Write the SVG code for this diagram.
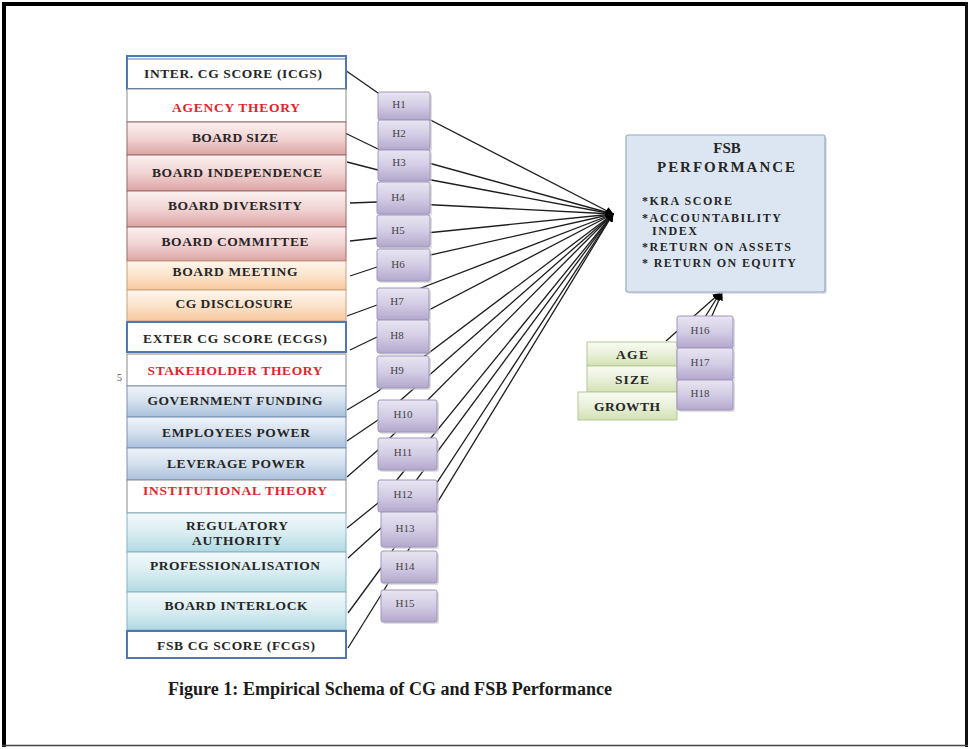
<svg xmlns="http://www.w3.org/2000/svg" width="970" height="749" viewBox="0 0 970 749">
<defs>
<linearGradient id="gPink" x1="0" y1="0" x2="0" y2="1"><stop offset="0" stop-color="#fcf1f1"/><stop offset="0.5" stop-color="#f2d3d3"/><stop offset="1" stop-color="#dca4a4"/></linearGradient>
<linearGradient id="gPeach" x1="0" y1="0" x2="0" y2="1"><stop offset="0" stop-color="#fef6ee"/><stop offset="0.5" stop-color="#fce3cb"/><stop offset="1" stop-color="#f7c99d"/></linearGradient>
<linearGradient id="gBlue" x1="0" y1="0" x2="0" y2="1"><stop offset="0" stop-color="#f0f4f9"/><stop offset="0.5" stop-color="#d3e0ee"/><stop offset="1" stop-color="#a8bfdb"/></linearGradient>
<linearGradient id="gCyan" x1="0" y1="0" x2="0" y2="1"><stop offset="0" stop-color="#f3f9fb"/><stop offset="0.5" stop-color="#d9edf2"/><stop offset="1" stop-color="#b0d9e3"/></linearGradient>
<linearGradient id="gPurple" x1="0" y1="0" x2="0" y2="1"><stop offset="0" stop-color="#e9e5f1"/><stop offset="0.5" stop-color="#d3cce5"/><stop offset="1" stop-color="#b3a8cc"/></linearGradient>
<linearGradient id="gGreen" x1="0" y1="0" x2="0" y2="1"><stop offset="0" stop-color="#f9fbf2"/><stop offset="0.5" stop-color="#e9f0d9"/><stop offset="1" stop-color="#d2e1b3"/></linearGradient>
<marker id="arr" viewBox="0 0 10 10" refX="9" refY="5" markerWidth="8" markerHeight="8" markerUnits="userSpaceOnUse" orient="auto"><path d="M0,0 L10,5 L0,10 z" fill="#000"/></marker>
<style>
.lbl{font-family:"Liberation Serif","Times New Roman",serif;font-weight:bold;font-size:13.5px;fill:#262626;text-anchor:middle}
.red{fill:#e3232c}
.hl{font-family:"Liberation Serif","Times New Roman",serif;font-size:11px;fill:#444;text-anchor:middle}
.score{fill:#ffffff;stroke:#4f77b4;stroke-width:2}
.theory{fill:#ffffff;stroke:#8a8a8a;stroke-width:1}
.pink{fill:url(#gPink);stroke:#9a6a6a;stroke-width:1}
.peach{fill:url(#gPeach);stroke:#c9a27e;stroke-width:1}
.blue{fill:url(#gBlue);stroke:#7b92b4;stroke-width:1}
.cyan{fill:url(#gCyan);stroke:#86b3c0;stroke-width:1}
.green{fill:url(#gGreen);stroke:#b3c797;stroke-width:1}
.hbox{fill:url(#gPurple);stroke:#a195bd;stroke-width:1}
.shadow{fill:#c9c9c9;opacity:0.6}
.conn line{stroke:#1e1e1e;stroke-width:1.3}
.fan line{stroke:#1e1e1e;stroke-width:1.3;marker-end:url(#arr)}
.fsbt{font-family:"Liberation Serif","Times New Roman",serif;font-weight:bold;fill:#262626}
</style>
</defs>
<rect x="0" y="0" width="970" height="749" fill="#ffffff"/>
<g id="frame">
<line x1="2" y1="4" x2="968" y2="4" stroke="#000" stroke-width="4"/>
<line x1="4" y1="2" x2="4" y2="747" stroke="#000" stroke-width="4"/>
<line x1="966.5" y1="2" x2="966.5" y2="747" stroke="#111" stroke-width="3"/>
<line x1="2" y1="745.5" x2="968" y2="745.5" stroke="#444" stroke-width="1.5"/>
</g>

<g id="connectors">
<g class="fan">
<line x1="378" y1="93" x2="613" y2="214"/>
<line x1="378" y1="149" x2="613" y2="214"/>
<line x1="378" y1="170" x2="613" y2="214"/>
<line x1="377" y1="202" x2="613" y2="214"/>
<line x1="377" y1="238" x2="613" y2="214"/>
<line x1="377" y1="267" x2="613" y2="214"/>
<line x1="377" y1="305" x2="613" y2="214"/>
<line x1="377" y1="337" x2="613" y2="214"/>
<line x1="377" y1="392" x2="613" y2="214"/>
<line x1="378" y1="420" x2="613" y2="214"/>
<line x1="378" y1="450" x2="613" y2="214"/>
<line x1="378" y1="503" x2="613" y2="214"/>
<line x1="381" y1="528" x2="613" y2="214"/>
<line x1="381" y1="568" x2="613" y2="214"/>
<line x1="381" y1="595" x2="613" y2="214"/>
<line x1="666" y1="341" x2="720" y2="293"/>
<line x1="677" y1="362" x2="720" y2="293"/>
<line x1="677" y1="395" x2="722" y2="293"/>
</g>
<g class="conn">
<line x1="345" y1="70" x2="378" y2="93"/>
<line x1="345" y1="133" x2="378" y2="149"/>
<line x1="347" y1="162" x2="378" y2="170"/>
<line x1="350" y1="203" x2="377" y2="202"/>
<line x1="350" y1="241" x2="377" y2="238"/>
<line x1="350" y1="276" x2="377" y2="267"/>
<line x1="347" y1="316" x2="377" y2="305"/>
<line x1="350" y1="350" x2="377" y2="337"/>
<line x1="347" y1="410" x2="377" y2="392"/>
<line x1="347" y1="441" x2="378" y2="420"/>
<line x1="347" y1="477" x2="378" y2="450"/>
<line x1="347" y1="528" x2="378" y2="503"/>
<line x1="348" y1="558" x2="381" y2="528"/>
<line x1="348" y1="613" x2="381" y2="568"/>
<line x1="348" y1="648" x2="381" y2="595"/>
</g>
</g>

<g id="icgs"><rect class="score" x="127" y="56" width="219" height="33"/><line x1="127" y1="59" x2="346" y2="59" stroke="#4f77b4" stroke-width="1"/><text class="lbl" x="233" y="77.5" textLength="178" lengthAdjust="spacing">INTER. CG SCORE (ICGS)</text></g>
<g id="agency"><rect class="theory" x="127" y="89" width="219" height="33"/><text class="lbl red" x="236" y="111.5" textLength="128" lengthAdjust="spacing">AGENCY THEORY</text></g>
<g id="boardsize"><rect class="pink" x="127" y="122" width="219" height="33"/><text class="lbl" x="235" y="141.5" textLength="86" lengthAdjust="spacing">BOARD SIZE</text></g>
<g id="boardindependence"><rect class="pink" x="127" y="155" width="219" height="36"/><text class="lbl" x="237" y="176.5" textLength="170" lengthAdjust="spacing">BOARD INDEPENDENCE</text></g>
<g id="boarddiversity"><rect class="pink" x="127" y="191" width="219" height="36"/><text class="lbl" x="235" y="209.5" textLength="134" lengthAdjust="spacing">BOARD DIVERSITY</text></g>
<g id="boardcommittee"><rect class="pink" x="127" y="227" width="219" height="34"/><text class="lbl" x="235" y="245.5" textLength="147" lengthAdjust="spacing">BOARD COMMITTEE</text></g>
<g id="boardmeeting"><rect class="peach" x="127" y="261" width="219" height="29"/><text class="lbl" x="235" y="275.5" textLength="125" lengthAdjust="spacing">BOARD MEETING</text></g>
<g id="cgdisclosure"><rect class="peach" x="127" y="290" width="219" height="31"/><text class="lbl" x="234" y="307.5" textLength="117" lengthAdjust="spacing">CG DISCLOSURE</text></g>
<g id="ecgs"><rect class="score" x="127" y="322" width="219" height="30"/><text class="lbl" x="235" y="342.5" textLength="184" lengthAdjust="spacing">EXTER CG SCORE (ECGS)</text></g>
<g id="stakeholder"><rect class="theory" x="127" y="354" width="219" height="32"/><text class="lbl red" x="235" y="374.5" textLength="175" lengthAdjust="spacing">STAKEHOLDER THEORY</text></g>
<g id="govfunding"><rect class="blue" x="127" y="386" width="219" height="31"/><text class="lbl" x="235" y="404.5" textLength="175" lengthAdjust="spacing">GOVERNMENT FUNDING</text></g>
<g id="employees"><rect class="blue" x="127" y="417" width="219" height="31"/><text class="lbl" x="236" y="436.5" textLength="148" lengthAdjust="spacing">EMPLOYEES POWER</text></g>
<g id="leverage"><rect class="blue" x="127" y="448" width="219" height="32"/><text class="lbl" x="236" y="467.5" textLength="138" lengthAdjust="spacing">LEVERAGE POWER</text></g>
<g id="institutional"><rect class="theory" x="127" y="480" width="219" height="33"/><text class="lbl red" x="235" y="494.5" textLength="184" lengthAdjust="spacing">INSTITUTIONAL THEORY</text></g>
<g id="regulatory"><rect class="cyan" x="127" y="513" width="219" height="39"/><text class="lbl" x="237" y="529.5" textLength="102" lengthAdjust="spacing">REGULATORY</text><text class="lbl" x="237" y="544.5" textLength="90" lengthAdjust="spacing">AUTHORITY</text></g>
<g id="professionalisation"><rect class="cyan" x="127" y="552" width="219" height="40"/><text class="lbl" x="235" y="569.5" textLength="170" lengthAdjust="spacing">PROFESSIONALISATION</text></g>
<g id="boardinterlock"><rect class="cyan" x="127" y="592" width="219" height="38"/><text class="lbl" x="236" y="609.5" textLength="143" lengthAdjust="spacing">BOARD INTERLOCK</text></g>
<g id="fcgs"><rect class="score" x="127" y="631" width="219" height="27"/><text class="lbl" x="236" y="649.5" textLength="158" lengthAdjust="spacing">FSB CG SCORE (FCGS)</text></g>
<text x="117" y="381" font-family="Liberation Serif, serif" font-size="10" fill="#555">5</text>

<g id="h1"><rect class="shadow" x="380" y="94" width="52" height="28" rx="2"/><rect class="hbox" x="378" y="92" width="52" height="28" rx="2"/><text class="hl" x="399" y="108">H1</text></g>
<g id="h2"><rect class="shadow" x="380" y="122" width="52" height="30" rx="2"/><rect class="hbox" x="378" y="120" width="52" height="30" rx="2"/><text class="hl" x="399" y="137">H2</text></g>
<g id="h3"><rect class="shadow" x="380" y="152" width="52" height="31" rx="2"/><rect class="hbox" x="378" y="150" width="52" height="31" rx="2"/><text class="hl" x="399" y="166">H3</text></g>
<g id="h4"><rect class="shadow" x="379" y="184" width="53" height="32" rx="2"/><rect class="hbox" x="377" y="182" width="53" height="32" rx="2"/><text class="hl" x="398" y="201">H4</text></g>
<g id="h5"><rect class="shadow" x="379" y="217" width="53" height="32" rx="2"/><rect class="hbox" x="377" y="215" width="53" height="32" rx="2"/><text class="hl" x="398" y="234">H5</text></g>
<g id="h6"><rect class="shadow" x="379" y="251" width="53" height="32" rx="2"/><rect class="hbox" x="377" y="249" width="53" height="32" rx="2"/><text class="hl" x="398" y="268">H6</text></g>
<g id="h7"><rect class="shadow" x="379" y="290" width="52" height="32" rx="2"/><rect class="hbox" x="377" y="288" width="52" height="32" rx="2"/><text class="hl" x="397" y="305">H7</text></g>
<g id="h8"><rect class="shadow" x="379" y="322" width="52" height="33" rx="2"/><rect class="hbox" x="377" y="320" width="52" height="33" rx="2"/><text class="hl" x="397" y="339">H8</text></g>
<g id="h9"><rect class="shadow" x="379" y="358" width="52" height="32" rx="2"/><rect class="hbox" x="377" y="356" width="52" height="32" rx="2"/><text class="hl" x="397" y="374">H9</text></g>
<g id="h10"><rect class="shadow" x="380" y="402" width="59" height="32" rx="2"/><rect class="hbox" x="378" y="400" width="59" height="32" rx="2"/><text class="hl" x="403" y="418">H10</text></g>
<g id="h11"><rect class="shadow" x="380" y="440" width="59" height="32" rx="2"/><rect class="hbox" x="378" y="438" width="59" height="32" rx="2"/><text class="hl" x="403" y="456">H11</text></g>
<g id="h12"><rect class="shadow" x="380" y="482" width="59" height="32" rx="2"/><rect class="hbox" x="378" y="480" width="59" height="32" rx="2"/><text class="hl" x="403" y="498">H12</text></g>
<g id="h13"><rect class="shadow" x="383" y="514" width="56" height="35" rx="2"/><rect class="hbox" x="381" y="512" width="56" height="35" rx="2"/><text class="hl" x="405" y="532">H13</text></g>
<g id="h14"><rect class="shadow" x="383" y="553" width="56" height="32" rx="2"/><rect class="hbox" x="381" y="551" width="56" height="32" rx="2"/><text class="hl" x="405" y="570">H14</text></g>
<g id="h15"><rect class="shadow" x="383" y="592" width="56" height="32" rx="2"/><rect class="hbox" x="381" y="590" width="56" height="32" rx="2"/><text class="hl" x="405" y="607">H15</text></g>

<g id="fsb">
<rect x="628" y="137" width="199" height="157" fill="#cfcfcf" opacity="0.6" rx="2"/>
<rect x="626" y="135" width="199" height="157" fill="#dce6f2" stroke="#93a7c3" stroke-width="1.2" rx="2"/>
<text class="fsbt" x="727" y="153" font-size="15" text-anchor="middle">FSB</text>
<text class="fsbt" x="726" y="172" font-size="15" text-anchor="middle" textLength="138" lengthAdjust="spacing">PERFORMANCE</text>
<text class="fsbt" x="642" y="205" font-size="12" textLength="90" lengthAdjust="spacing">*KRA SCORE</text>
<text class="fsbt" x="642" y="222" font-size="12" textLength="139" lengthAdjust="spacing">*ACCOUNTABILITY</text>
<text class="fsbt" x="652" y="235" font-size="12" textLength="45" lengthAdjust="spacing">INDEX</text>
<text class="fsbt" x="642" y="251" font-size="12" textLength="149" lengthAdjust="spacing">*RETURN ON ASSETS</text>
<text class="fsbt" x="642" y="267" font-size="12" textLength="154" lengthAdjust="spacing">* RETURN ON EQUITY</text>
</g>

<g id="age"><rect class="green" x="587" y="342" width="90" height="24"/><text class="lbl" x="632" y="358.5" textLength="32" lengthAdjust="spacing">AGE</text></g>
<g id="size"><rect class="green" x="587" y="366" width="90" height="26"/><text class="lbl" x="632" y="383.5" textLength="34" lengthAdjust="spacing">SIZE</text></g>
<g id="growth"><rect class="green" x="578" y="392" width="99" height="28"/><text class="lbl" x="627" y="410.5" textLength="66" lengthAdjust="spacing">GROWTH</text></g>
<g id="h16"><rect class="shadow" x="679" y="318" width="56" height="32" rx="2"/><rect class="hbox" x="677" y="316" width="56" height="32" rx="2"/><text class="hl" x="700" y="334">H16</text></g>
<g id="h17"><rect class="shadow" x="679" y="350" width="56" height="32" rx="2"/><rect class="hbox" x="677" y="348" width="56" height="32" rx="2"/><text class="hl" x="700" y="366">H17</text></g>
<g id="h18"><rect class="shadow" x="679" y="382" width="56" height="30" rx="2"/><rect class="hbox" x="677" y="380" width="56" height="30" rx="2"/><text class="hl" x="700" y="397">H18</text></g>

<text id="caption" x="168" y="695" font-family="Liberation Serif, Times New Roman, serif" font-weight="bold" font-size="18" fill="#1a1a1a" textLength="444" lengthAdjust="spacingAndGlyphs">Figure 1: Empirical Schema of CG and FSB Performance</text>
</svg>
